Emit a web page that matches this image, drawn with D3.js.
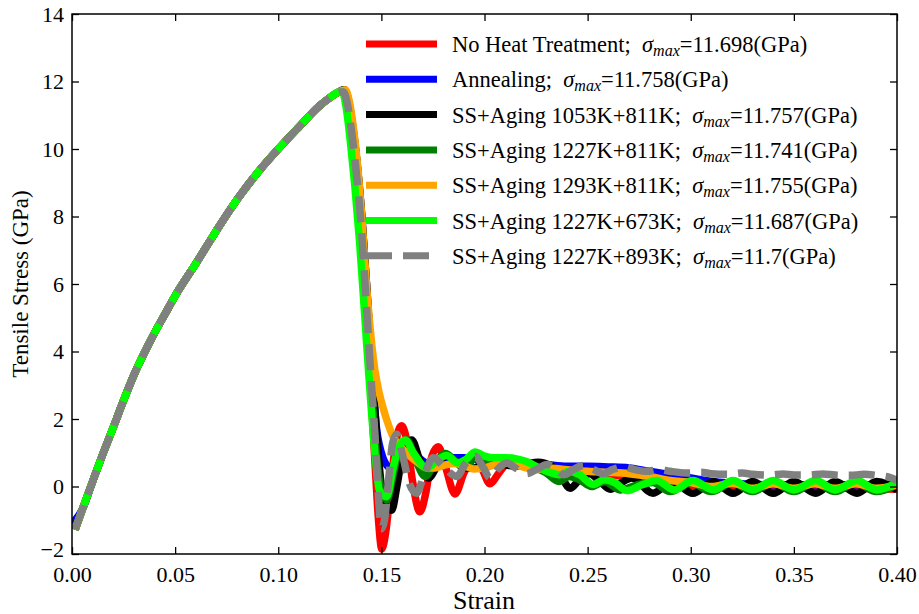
<!DOCTYPE html>
<html><head><meta charset="utf-8">
<script src="https://cdn.jsdelivr.net/npm/d3@7"></script>
<style>
body{margin:0;background:#fff;}
text{font-family:"Liberation Serif","Times New Roman",serif;fill:#000;}
</style></head>
<body><svg id="c" width="919" height="614"></svg>
<script>
// ---- Data ----
const xTicks = [0.00,0.05,0.10,0.15,0.20,0.25,0.30,0.35,0.40];
const yTicks = [-2,0,2,4,6,8,10,12,14];

// shared loading branch (strain, stress)
const loadingBranch = [[0.005,-0.68],[0.010,0.15],[0.015,0.97],[0.020,1.75],[0.025,2.55],[0.030,3.3],[0.035,3.95],[0.040,4.55],[0.045,5.1],[0.050,5.65],[0.060,6.6],[0.070,7.58],[0.080,8.5],[0.090,9.3],[0.100,10.0],[0.110,10.65],[0.120,11.28],[0.125,11.52],[0.129,11.68]];

const seriesNames = ["No Heat Treatment","Annealing","SS+Aging 1053K+811K","SS+Aging 1227K+811K","SS+Aging 1293K+811K","SS+Aging 1227K+673K","SS+Aging 1227K+893K"];
const sigmaMax = ["11.698","11.758","11.757","11.741","11.755","11.687","11.7"];
const seriesColors = ["#ff0000","#0000ff","#000000","#008000","#ffa500","#00ff00","#808080"];

const startRed = [[0.0015,-1.28]];
const tailRed = [[0.1315,11.698],[0.1335,11.35],[0.1355,10.5],[0.1375,9.4],[0.140,7.7],[0.1425,5.3],[0.145,2.8],[0.147,0.6],[0.1485,-0.9],[0.1502,-1.85],[0.152,-1.4],[0.1545,0.0],[0.157,1.3],[0.1598,1.8],[0.1625,1.3],[0.165,0.2],[0.1687,-0.75],[0.1715,-0.2],[0.1745,0.9],[0.1776,1.18],[0.181,0.6],[0.1857,-0.22],[0.190,0.4],[0.1954,0.92],[0.199,0.5],[0.2027,0.08],[0.207,0.4],[0.212,0.72],[0.22,0.7],[0.23,0.62],[0.24,0.5],[0.25,0.45],[0.26,0.35],[0.27,0.28],[0.28,0.18],[0.29,0.08],[0.30,0.03],[0.32,0.0],[0.34,-0.02],[0.36,-0.03],[0.38,-0.05],[0.40,-0.08]];

const startBlue = [[0.000,-1.1]];
const tailBlue = [[0.132,11.758],[0.134,11.45],[0.136,10.7],[0.138,9.7],[0.1405,8.0],[0.143,5.8],[0.1455,3.4],[0.1475,1.8],[0.150,1.0],[0.153,0.6],[0.156,0.5],[0.159,0.7],[0.163,1.0],[0.167,0.9],[0.172,0.7],[0.178,0.75],[0.185,0.85],[0.19,0.85],[0.20,0.75],[0.21,0.7],[0.22,0.7],[0.23,0.65],[0.24,0.6],[0.25,0.6],[0.26,0.58],[0.27,0.55],[0.28,0.45],[0.29,0.35],[0.30,0.25],[0.31,0.15],[0.32,0.1],[0.34,0.05],[0.36,0.05],[0.38,0.05],[0.40,0.05]];

const startBlack = [[0.0015,-1.28]];
const tailBlack = [[0.132,11.757],[0.134,11.45],[0.136,10.7],[0.138,9.7],[0.1405,8.0],[0.143,5.8],[0.1455,3.4],[0.148,1.3],[0.150,0.0],[0.1525,-0.6],[0.155,-0.7],[0.1575,0.0],[0.1605,1.0],[0.1647,1.38],[0.1685,0.8],[0.1728,0.25],[0.177,0.6],[0.1817,0.92],[0.186,0.75],[0.19,0.55],[0.195,0.55],[0.20,0.7],[0.205,0.75],[0.21,0.65],[0.215,0.6],[0.22,0.65],[0.226,0.72],[0.232,0.62],[0.237,0.3],[0.2415,-0.05],[0.246,0.2],[0.251,0.38],[0.256,0.15],[0.261,-0.08],[0.266,0.1],[0.2715,0.25],[0.2817,-0.2],[0.291,0.15],[0.301,-0.2],[0.311,0.15],[0.3205,-0.2],[0.330,0.15],[0.340,-0.2],[0.350,0.15],[0.3606,-0.2],[0.370,0.15],[0.3806,-0.2],[0.390,0.15],[0.400,-0.1]];

const startGreen = [[0.0015,-1.28]];
const tailGreen = [[0.1315,11.741],[0.1335,11.35],[0.1355,10.5],[0.1375,9.5],[0.140,7.8],[0.1425,5.6],[0.145,3.1],[0.1475,1.0],[0.150,-0.1],[0.1526,-0.4],[0.1555,0.3],[0.1585,1.1],[0.1623,1.38],[0.1665,0.8],[0.1712,0.3],[0.176,0.7],[0.181,0.98],[0.186,0.75],[0.191,0.6],[0.1955,0.85],[0.20,0.8],[0.205,0.7],[0.21,0.75],[0.215,0.8],[0.22,0.7],[0.225,0.55],[0.23,0.4],[0.236,0.15],[0.241,0.3],[0.246,0.2],[0.252,0.0],[0.258,0.15],[0.266,-0.1],[0.274,0.05],[0.2815,0.12],[0.29,-0.15],[0.30,0.12],[0.31,-0.15],[0.32,0.12],[0.33,-0.15],[0.34,0.12],[0.35,-0.15],[0.36,0.12],[0.37,-0.15],[0.38,0.12],[0.39,-0.15],[0.40,0.05]];

const startOrange = [[0.0015,-1.28]];
const tailOrange = [[0.1325,11.755],[0.1345,11.4],[0.1365,10.6],[0.1385,9.5],[0.1405,8.0],[0.143,5.8],[0.1465,3.6],[0.1485,2.9],[0.1505,2.4],[0.153,1.9],[0.1555,1.5],[0.159,1.2],[0.163,0.95],[0.1675,0.72],[0.172,0.55],[0.176,0.55],[0.180,0.62],[0.185,0.68],[0.190,0.62],[0.195,0.52],[0.200,0.55],[0.205,0.65],[0.210,0.7],[0.215,0.65],[0.22,0.55],[0.225,0.5],[0.23,0.55],[0.24,0.5],[0.25,0.45],[0.26,0.42],[0.27,0.38],[0.28,0.3],[0.29,0.18],[0.30,0.12],[0.31,0.0],[0.32,0.1],[0.33,-0.05],[0.34,0.08],[0.35,-0.05],[0.36,0.08],[0.37,-0.05],[0.38,0.08],[0.39,-0.05],[0.40,0.05]];

const startLime = [[0.0015,-1.28]];
const tailLime = [[0.131,11.687],[0.133,11.2],[0.135,10.2],[0.137,9.0],[0.1395,7.2],[0.142,5.0],[0.1445,2.8],[0.147,0.9],[0.149,-0.1],[0.1526,-0.3],[0.1555,0.5],[0.158,1.1],[0.1615,1.38],[0.1655,1.0],[0.172,0.55],[0.1775,0.8],[0.1817,0.92],[0.187,0.7],[0.191,0.8],[0.1955,1.02],[0.20,0.9],[0.205,0.85],[0.21,0.85],[0.2155,0.82],[0.22,0.75],[0.225,0.6],[0.23,0.45],[0.2366,0.35],[0.241,0.45],[0.246,0.35],[0.2527,0.06],[0.258,0.2],[0.263,0.12],[0.269,-0.12],[0.2765,0.05],[0.2835,0.18],[0.292,-0.1],[0.301,0.18],[0.311,-0.1],[0.3205,0.18],[0.330,-0.1],[0.340,0.18],[0.350,-0.1],[0.3606,0.18],[0.370,-0.1],[0.3806,0.18],[0.390,-0.1],[0.400,0.12]];

const startGray = [[0.0015,-1.28]];
const tailGray = [[0.1315,11.7],[0.1335,11.35],[0.1355,10.55],[0.1375,9.5],[0.140,7.9],[0.1425,5.6],[0.145,3.2],[0.147,1.4],[0.1485,-0.2],[0.150,-1.25],[0.1515,-1.0],[0.1535,0.2],[0.1555,1.3],[0.1574,1.55],[0.160,1.0],[0.1635,0.1],[0.167,-0.2],[0.1705,0.3],[0.1752,0.85],[0.180,0.6],[0.1865,0.3],[0.191,0.7],[0.1954,0.9],[0.1995,0.55],[0.2027,0.25],[0.207,0.55],[0.2107,0.7],[0.215,0.55],[0.2204,0.38],[0.225,0.5],[0.2305,0.65],[0.235,0.5],[0.2385,0.35],[0.243,0.5],[0.248,0.62],[0.253,0.5],[0.2574,0.38],[0.262,0.5],[0.2675,0.58],[0.273,0.5],[0.2785,0.45],[0.285,0.5],[0.29,0.45],[0.298,0.4],[0.305,0.42],[0.31,0.38],[0.318,0.36],[0.325,0.4],[0.33,0.36],[0.338,0.34],[0.345,0.37],[0.35,0.34],[0.357,0.34],[0.364,0.37],[0.37,0.34],[0.377,0.33],[0.384,0.36],[0.39,0.33],[0.396,0.28],[0.400,0.18]];

const seriesData = [
  startRed.concat(loadingBranch, tailRed),
  startBlue.concat(loadingBranch, tailBlue),
  startBlack.concat(loadingBranch, tailBlack),
  startGreen.concat(loadingBranch, tailGreen),
  startOrange.concat(loadingBranch, tailOrange),
  startLime.concat(loadingBranch, tailLime),
  startGray.concat(loadingBranch, tailGray)
];

// ---- Layout ----
const svg = d3.select("#c");
const L = 72, R = 897, T = 14, B = 554;
const x = d3.scaleLinear().domain([0,0.4]).range([L,R]);
const y = d3.scaleLinear().domain([-2,14]).range([B,T]);

const clip = svg.append("defs").append("clipPath").attr("id","pc");
clip.append("rect").attr("x",L).attr("y",T).attr("width",R-L).attr("height",B-T);

const line = d3.line().x(d=>x(d[0])).y(d=>y(d[1])).curve(d3.curveMonotoneX);
const plot = svg.append("g").attr("clip-path","url(#pc)");
seriesData.forEach((d,i)=>{
  plot.append("path").datum(d).attr("d",line)
    .attr("fill","none").attr("stroke",seriesColors[i]).attr("stroke-width",7.5)
    .attr("stroke-linejoin","round")
    .attr("stroke-dasharray", i===6 ? "26,11" : null);
});

// axes
const fmtX = d3.format(".2f");
const fmtY = v => v<0 ? "\u2212"+Math.abs(v) : String(v);
const ax = svg.append("g").attr("transform",`translate(0,${B})`)
  .call(d3.axisBottom(x).tickValues(xTicks).tickFormat(fmtX).tickSizeInner(-7).tickSizeOuter(0).tickPadding(12));
const ay = svg.append("g").attr("transform",`translate(${L},0)`)
  .call(d3.axisLeft(y).tickValues(yTicks).tickFormat(fmtY).tickSizeInner(-7).tickSizeOuter(0).tickPadding(8));
const axt = svg.append("g").attr("transform",`translate(0,${T})`)
  .call(d3.axisTop(x).tickValues(xTicks).tickFormat("").tickSizeInner(-7).tickSizeOuter(0));
const ayr = svg.append("g").attr("transform",`translate(${R},0)`)
  .call(d3.axisRight(y).tickValues(yTicks).tickFormat("").tickSizeInner(-7).tickSizeOuter(0));
[ax,ay,axt,ayr].forEach(g=>{
  g.select(".domain").remove();
  g.selectAll(".tick line").attr("stroke","#000").attr("stroke-width",1.3);
  g.selectAll("text").attr("font-family","Liberation Serif").attr("font-size",22).attr("fill","#000");
});
// nudge the lowest y label up slightly, as in the reference where it sits at the corner
ay.selectAll(".tick text").filter(d=>d===-2).attr("dy","0.1em");
svg.append("rect").attr("x",L).attr("y",T).attr("width",R-L).attr("height",B-T)
  .attr("fill","none").attr("stroke","#000").attr("stroke-width",1.5);

// axis labels
svg.append("text").attr("x",484).attr("y",609).attr("text-anchor","middle")
  .attr("font-size",26).text("Strain");
svg.append("text").attr("transform",`translate(28,${(T+B)/2}) rotate(-90)`).attr("text-anchor","middle")
  .attr("font-size",23).text("Tensile Stress (GPa)");

// legend
const lg = svg.append("g");
const rowY0 = 44, rowDy = 35.3;
seriesNames.forEach((name,i)=>{
  const yy = rowY0 + i*rowDy;
  lg.append("line").attr("x1",366).attr("x2",437).attr("y1",yy).attr("y2",yy)
    .attr("stroke",seriesColors[i]).attr("stroke-width",7)
    .attr("stroke-dasharray", i===6 ? "26,11" : null);
  const t = lg.append("text").attr("x",452).attr("y",yy+8).attr("font-size",22.5).attr("xml:space","preserve");
  t.append("tspan").text(name+";\u00a0\u00a0");
  t.append("tspan").attr("font-style","italic").text("\u03c3");
  t.append("tspan").attr("font-style","italic").attr("font-size",16).attr("dy",4).text("max");
  t.append("tspan").attr("dy",-4).text("="+sigmaMax[i]+"(GPa)");
});
</script></body></html>
